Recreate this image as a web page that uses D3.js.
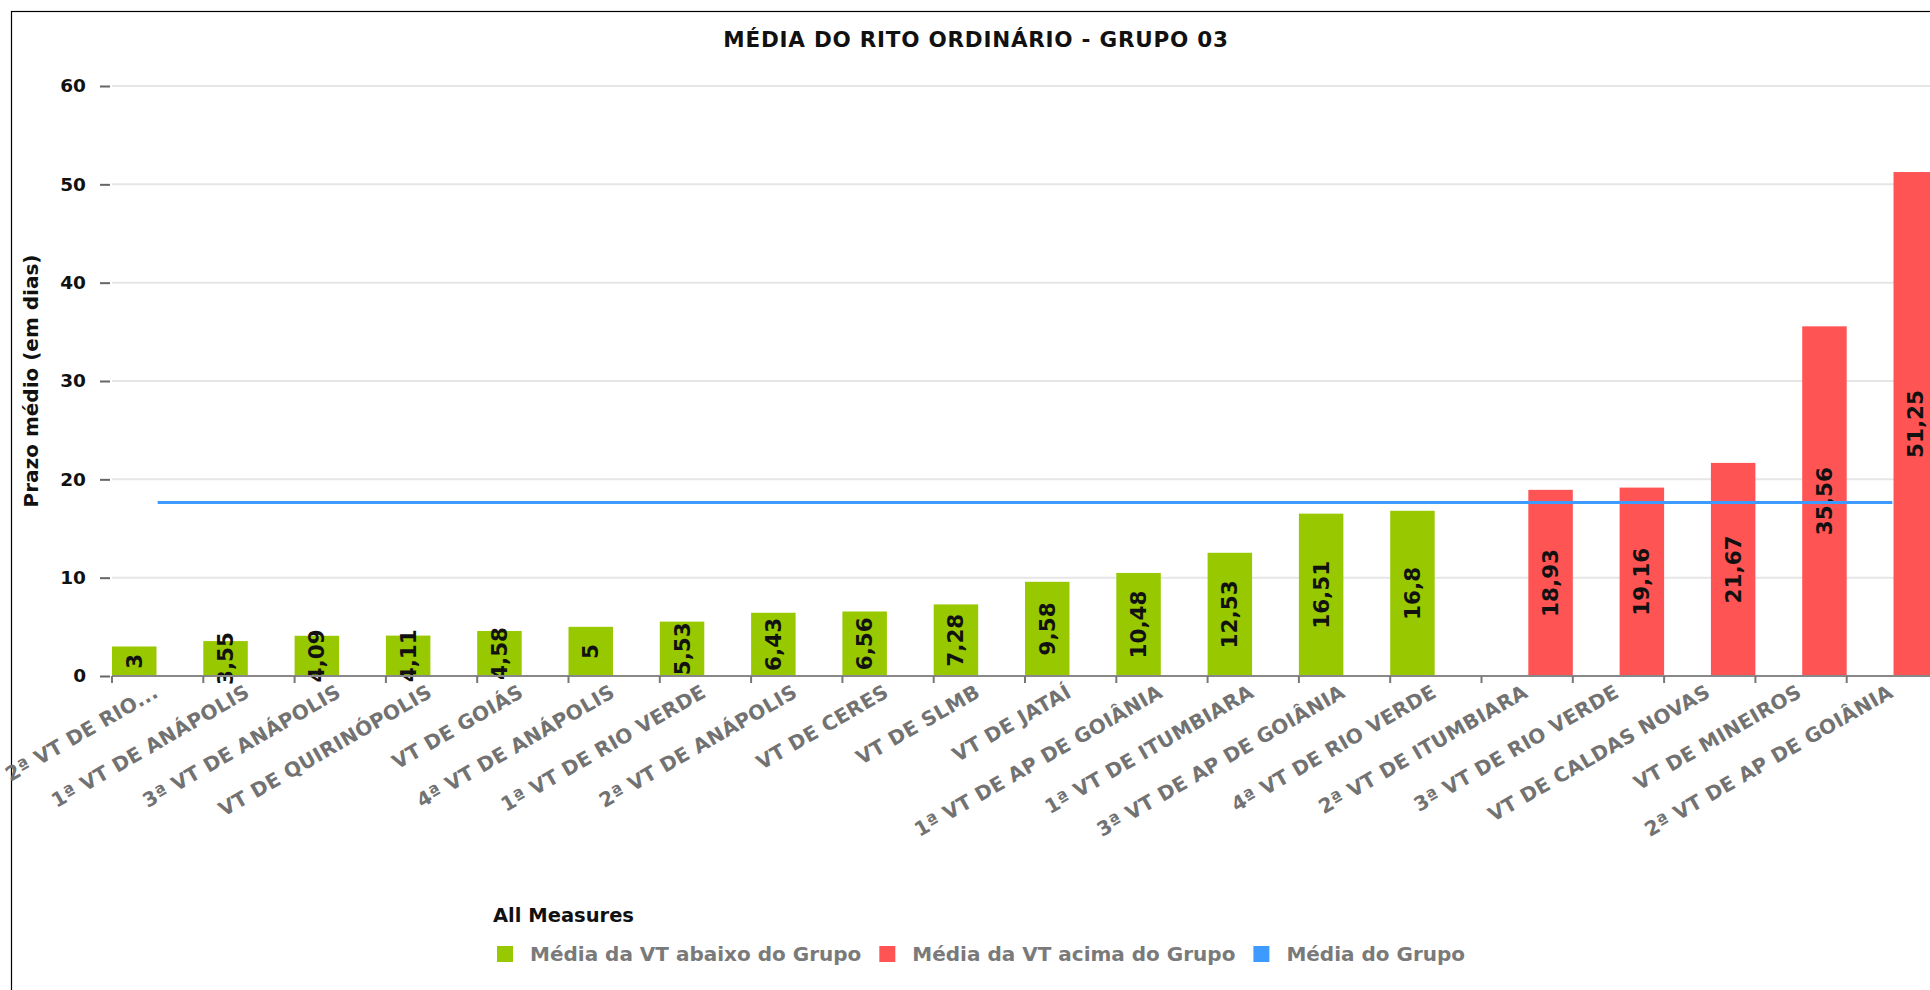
<!DOCTYPE html>
<html>
<head>
<meta charset="utf-8">
<script src="https://cdn.jsdelivr.net/npm/d3@7"></script>
<style>
    body { margin: 0; background: #fff; }
    svg { display: block; font-family: "DejaVu Sans", Verdana, sans-serif; }
</style>
</head>
<body>
<svg id="chart" width="1930" height="990"></svg>
<script>
// data
let categories = [
    "2ª VT DE RIO...", "1ª VT DE ANÁPOLIS", "3ª VT DE ANÁPOLIS", "VT DE QUIRINÓPOLIS",
    "VT DE GOIÁS", "4ª VT DE ANÁPOLIS", "1ª VT DE RIO VERDE", "2ª VT DE ANÁPOLIS",
    "VT DE CERES", "VT DE SLMB", "VT DE JATAÍ", "1ª VT DE AP DE GOIÂNIA",
    "1ª VT DE ITUMBIARA", "3ª VT DE AP DE GOIÂNIA", "4ª VT DE RIO VERDE", "2ª VT DE ITUMBIARA",
    "3ª VT DE RIO VERDE", "VT DE CALDAS NOVAS", "VT DE MINEIROS", "2ª VT DE AP DE GOIÂNIA"
];
// Média da VT abaixo do Grupo
let belowGroup = [3, 3.55, 4.09, 4.11, 4.58, 5, 5.53, 6.43, 6.56, 7.28, 9.58, 10.48, 12.53, 16.51, 16.8,
    null, null, null, null, null];
// Média da VT acima do Grupo
let aboveGroup = [null, null, null, null, null, null, null, null, null, null, null, null, null, null, null,
    18.93, 19.16, 21.67, 35.56, 51.25];
// Média do Grupo
let groupAverage = 17.65;
let yTicks = [0, 10, 20, 30, 40, 50, 60];

let series = [
    { key: "abaixo", name: "Média da VT abaixo do Grupo", color: "#97c800", values: belowGroup },
    { key: "acima", name: "Média da VT acima do Grupo", color: "#ff5454", values: aboveGroup }
];
let lineColor = "#3d9bff";

// layout
let plotLeft = 112, plotTop = 86, plotBottom = 676;
let step = 91.3;
let plotRight = plotLeft + step * categories.length;

let svg = d3.select("#chart");

let x = d3.scaleBand().domain(categories).range([plotLeft, plotRight]).paddingInner(0).paddingOuter(0);
let x1 = d3.scaleBand().domain(series.map(s => s.key)).range([0, x.bandwidth()]).paddingInner(0.05);
let y = d3.scaleLinear().domain([0, 60]).range([plotBottom, plotTop]);

// frame
svg.append("rect")
    .attr("x", 11.5).attr("y", 11.5)
    .attr("width", 3000).attr("height", 3000)
    .attr("fill", "none").attr("stroke", "#000").attr("stroke-width", 1.2);

// title
svg.append("text")
    .attr("x", 976).attr("y", 47)
    .attr("text-anchor", "middle")
    .attr("font-size", 21.5).attr("font-weight", "bold")
    .attr("letter-spacing", 0.75)
    .attr("fill", "#111")
    .text("MÉDIA DO RITO ORDINÁRIO - GRUPO 03");

// gridlines
svg.append("g").selectAll("line")
    .data(yTicks.filter(t => t > 0))
    .join("line")
    .attr("x1", plotLeft).attr("x2", plotRight)
    .attr("y1", d => y(d)).attr("y2", d => y(d))
    .attr("stroke", "#e6e6e6").attr("stroke-width", 2);

// y axis
let yAxis = svg.append("g")
    .attr("transform", "translate(110,0)")
    .call(d3.axisLeft(y).tickValues(yTicks).tickSize(10).tickPadding(14));
yAxis.select(".domain").remove();
yAxis.selectAll(".tick line").attr("stroke", "#666").attr("stroke-width", 2);
yAxis.selectAll(".tick text")
    .attr("font-size", 18.5).attr("font-weight", "bold").attr("fill", "#111")
    .attr("font-family", "DejaVu Sans");

svg.append("text")
    .attr("transform", "translate(38," + ((plotTop + plotBottom) / 2) + ") rotate(-90)")
    .attr("text-anchor", "middle")
    .attr("font-size", 20).attr("font-weight", "bold").attr("fill", "#111")
    .text("Prazo médio (em dias)");

// bars
let groups = svg.append("g").selectAll("g")
    .data(series)
    .join("g")
    .attr("fill", d => d.color);

groups.selectAll("rect")
    .data(s => s.values.map((v, i) => ({ key: s.key, cat: categories[i], value: v })).filter(d => d.value != null))
    .join("rect")
    .attr("x", d => x(d.cat) + x1(d.key))
    .attr("width", x1.bandwidth())
    .attr("y", d => y(d.value))
    .attr("height", d => y(0) - y(d.value));

// group average line
svg.append("line")
    .attr("x1", x(categories[0]) + x.bandwidth() / 2)
    .attr("x2", x(categories[categories.length - 1]) + x.bandwidth() / 2)
    .attr("y1", y(groupAverage)).attr("y2", y(groupAverage))
    .attr("stroke", lineColor).attr("stroke-width", 3);

// value labels
let fmt = v => String(v).replace(".", ",");
groups.selectAll("text")
    .data(s => s.values.map((v, i) => ({ key: s.key, cat: categories[i], value: v })).filter(d => d.value != null))
    .join("text")
    .attr("transform", d => "translate(" + (x(d.cat) + x1(d.key) + x1.bandwidth() / 2) + "," + ((y(0) + y(d.value)) / 2) + ") rotate(-90)")
    .attr("text-anchor", "middle")
    .attr("dominant-baseline", "central")
    .attr("font-size", 21.5).attr("font-weight", "bold")
    .attr("fill", "#111")
    .text(d => fmt(d.value));

// x axis
svg.append("line")
    .attr("x1", plotLeft).attr("x2", plotRight)
    .attr("y1", plotBottom).attr("y2", plotBottom)
    .attr("stroke", "#888").attr("stroke-width", 2);

svg.append("g").selectAll("line")
    .data(categories)
    .join("line")
    .attr("x1", d => x(d)).attr("x2", d => x(d))
    .attr("y1", plotBottom).attr("y2", plotBottom + 7)
    .attr("stroke", "#777").attr("stroke-width", 2);

let xAxis = svg.append("g")
    .attr("transform", "translate(0," + plotBottom + ")")
    .call(d3.axisBottom(x).tickSize(0).tickSizeOuter(0));
xAxis.select(".domain").remove();
xAxis.selectAll(".tick text")
    .attr("x", 0).attr("y", 0).attr("dy", 0)
    .attr("transform", "translate(2,20) rotate(-30)")
    .style("text-anchor", "end")
    .attr("font-size", 20).attr("font-weight", "bold").attr("fill", "#727272")
    .attr("letter-spacing", 0.3)
    .attr("font-family", "DejaVu Sans");

// legend
let legend = svg.append("g");
legend.append("text")
    .attr("x", 493).attr("y", 922)
    .attr("font-size", 19.5).attr("font-weight", "bold").attr("fill", "#111")
    .text("All Measures");

let legendItems = series.map(s => ({ name: s.name, color: s.color }))
    .concat([{ name: "Média do Grupo", color: lineColor }]);
let lx = 497;
legendItems.forEach(function (item) {
    legend.append("rect")
        .attr("x", lx).attr("y", 946)
        .attr("width", 16).attr("height", 16)
        .attr("fill", item.color);
    let t = legend.append("text")
        .attr("x", lx + 33).attr("y", 961)
        .attr("font-size", 20).attr("font-weight", "bold").attr("fill", "#7a7a7a")
        .text(item.name);
    lx = lx + 33 + t.node().getComputedTextLength() + 18;
});
</script>
</body>
</html>
